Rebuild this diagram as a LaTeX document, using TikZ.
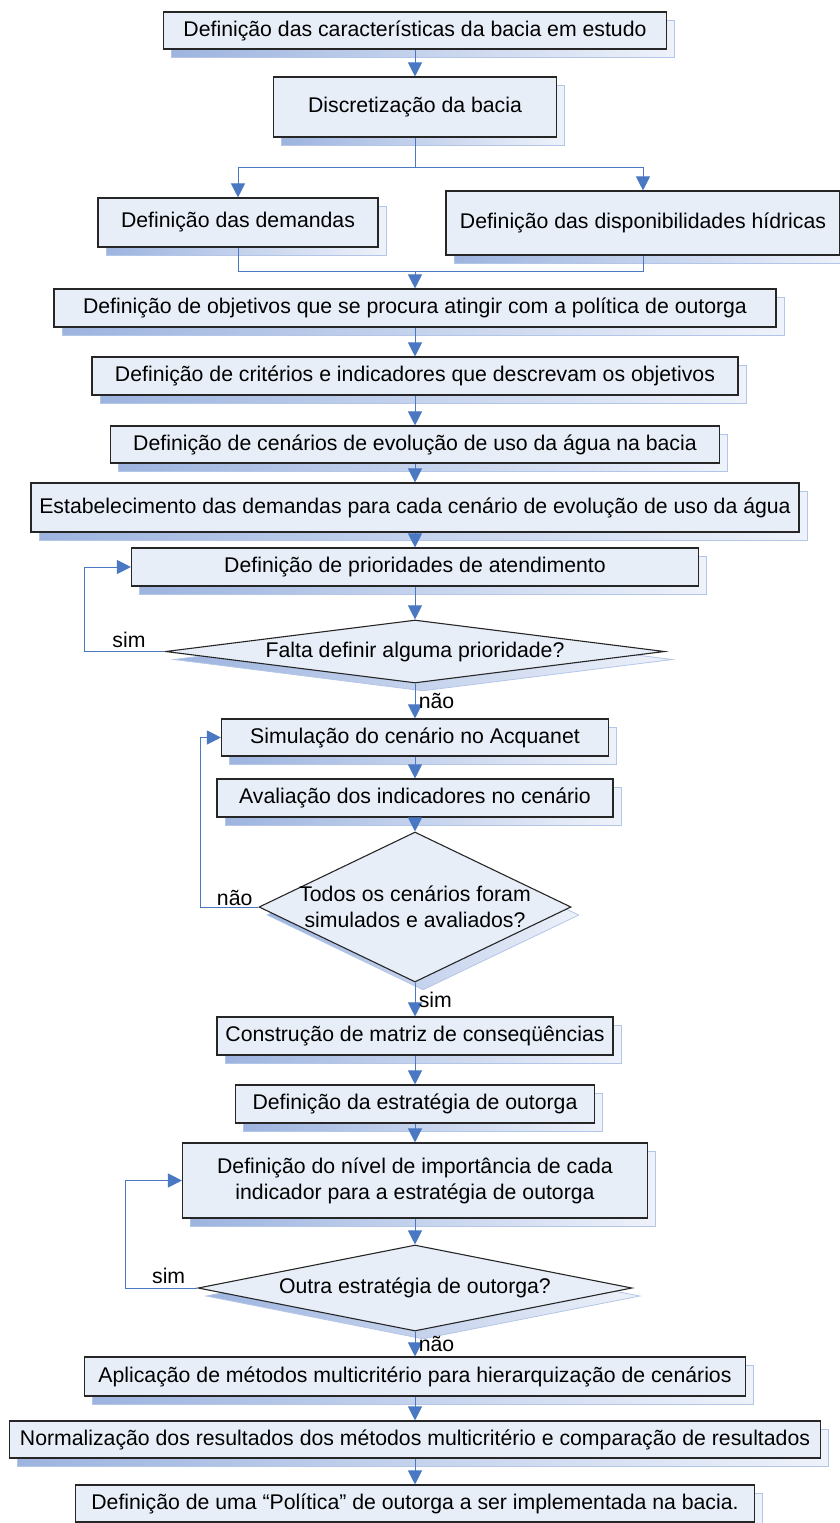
\documentclass[tikz,border=0pt]{standalone}
\usepackage{fontspec}
\setmainfont{Liberation Sans}
\usepackage{tikz}
\usetikzlibrary{positioning,arrows.meta,shapes.geometric,shadows}
\definecolor{flowBlue}{HTML}{4A78C2}
\definecolor{flowFill}{HTML}{E8EEF8}
\definecolor{flowShade}{HTML}{9DB4DF}
\definecolor{flowShadeLight}{HTML}{EEF2FA}
\definecolor{flowShadeEdge}{HTML}{B4C6E7}
\tikzset{
  boxShadow/.style={general shadow={shadow xshift=8pt, shadow yshift=-8pt, left color=flowShade, right color=flowShadeLight, draw=flowShadeEdge, line width=0.8pt}},
  stepBox/.style={draw=black!85, line width=1.1pt, fill=flowFill, boxShadow, inner sep=0pt, align=center},
  decisionBox/.style={stepBox, diamond},
  flowLine/.style={draw=flowBlue, line width=1pt},
  flowArrow/.style={flowLine, -{Triangle[length=14pt, width=14pt]}}
}

\begin{document}
\begin{tikzpicture}[x=1pt, y=-1pt, font=\fontsize{21.25}{26}\selectfont]
  \useasboundingbox (0,0) rectangle (840,1523);

  % passos iniciais
  \node[stepBox, minimum width=503pt, minimum height=37pt] (carac) at (415,30.5) {Definição das características da bacia em estudo};
  \node[stepBox, minimum width=283pt, minimum height=60pt] (discr) at (415,107) {Discretização da bacia};
  \node[stepBox, minimum width=280pt, minimum height=49pt] (demand) at (238,222.5) {Definição das demandas};
  \node[stepBox, minimum width=394pt, minimum height=64pt] (dispon) at (643,223) {Definição das disponibilidades hídricas};
  \coordinate (mergePt) at (415,271);
  \node[stepBox, minimum width=722pt, minimum height=38pt] (objet) at (415,308) {Definição de objetivos que se procura atingir com a política de outorga};
  \node[stepBox, minimum width=646pt, minimum height=38pt] (crit) at (415,376) {Definição de critérios e indicadores que descrevam os objetivos};
  \node[stepBox, minimum width=609pt, minimum height=37pt] (cenar) at (415,444.5) {Definição de cenários de evolução de uso da água na bacia};
  \node[stepBox, minimum width=768pt, minimum height=49pt] (estab) at (415,507.5) {Estabelecimento das demandas para cada cenário de evolução de uso da água};
  \node[stepBox, minimum width=567pt, minimum height=38pt] (prior) at (415,567) {Definição de prioridades de atendimento};
  \node[decisionBox, minimum width=499pt, minimum height=63pt, label=center:{Falta definir alguma prioridade?}] (falta) at (415,651.5) {};

  % simulacao dos cenarios
  \node[stepBox, minimum width=387pt, minimum height=37pt] (simul) at (415,737.5) {Simulação do cenário no Acquanet};
  \node[stepBox, minimum width=396pt, minimum height=38pt] (aval) at (415,798) {Avaliação dos indicadores no cenário};
  \node[decisionBox, minimum width=312pt, minimum height=150pt, label={[align=center]center:Todos os cenários foram\\simulados e avaliados?}] (todos) at (415,907) {};
  \node[stepBox, minimum width=396pt, minimum height=38pt] (constr) at (415,1036) {Construção de matriz de conseqüências};
  \node[stepBox, minimum width=359pt, minimum height=38pt] (estrat) at (415,1104) {Definição da estratégia de outorga};
  \node[stepBox, minimum width=465pt, minimum height=75pt] (nivel) at (415,1180.5) {Definição do nível de importância de cada\\indicador para a estratégia de outorga};
  \node[decisionBox, minimum width=434pt, minimum height=86pt, label=center:{Outra estratégia de outorga?}] (outra) at (415,1288) {};

  % hierarquizacao
  \node[stepBox, minimum width=661pt, minimum height=39pt] (aplic) at (415,1376.5) {Aplicação de métodos multicritério para hierarquização de cenários};
  \node[stepBox, minimum width=811pt, minimum height=37pt] (normal) at (415,1439.5) {Normalização dos resultados dos métodos multicritério e comparação de resultados};
  \node[stepBox, minimum width=679pt, minimum height=37pt] (polit) at (415,1503.5) {Definição de uma “Política” de outorga a ser implementada na bacia.};

  \draw[flowArrow] (carac.south) -- (discr.north);
  \draw[flowArrow] (discr.south) -- ++(0,30) -| (demand.north);
  \draw[flowArrow] (discr.south) -- ++(0,30) -| (dispon.north);
  \draw[flowLine] (demand.south) |- (mergePt);
  \draw[flowLine] (dispon.south) |- (mergePt);
  \draw[flowArrow] (mergePt) -- (objet.north);
  \foreach \a/\b in {objet/crit, crit/cenar, cenar/estab, estab/prior, prior/falta, simul/aval, aval/todos, constr/estrat, estrat/nivel, nivel/outra, aplic/normal, normal/polit}
    \draw[flowArrow] (\a.south) -- (\b.north);

  \draw[flowArrow] (falta.south) -- node[right]{não} (simul.north);
  \draw[flowArrow] (todos.south) -- node[right]{sim} (constr.north);
  \draw[flowArrow] (outra.south) -- node[right]{não} (aplic.north);

  % lacos de repeticao
  \draw[flowArrow] (falta.west) -- node[above, pos=0.45]{sim} ++(-80,0) |- (prior.west);
  \draw[flowArrow] (todos.west) -- node[above, pos=0.41, inner sep=1pt]{não} ++(-58,0) |- (simul.west);
  \draw[flowArrow] (outra.west) -- node[above, pos=0.4]{sim} ++(-72,0) |- (nivel.west);
\end{tikzpicture}
\end{document}
